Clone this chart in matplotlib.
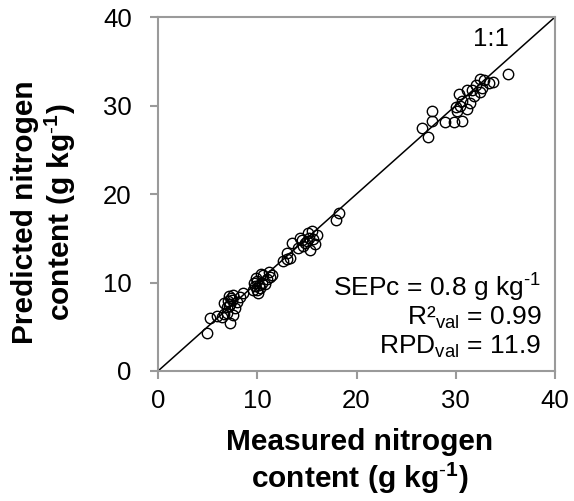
import matplotlib
matplotlib.use("Agg")
import matplotlib.pyplot as plt

plt.rcParams['font.family'] = ['Liberation Sans', 'DejaVu Sans']
plt.rcParams['mathtext.fontset'] = 'custom'
plt.rcParams['mathtext.rm'] = 'Liberation Sans'
plt.rcParams['mathtext.it'] = 'Liberation Sans:italic'
plt.rcParams['mathtext.bf'] = 'Liberation Sans:bold'

measured = [4.9, 5.2, 5.9, 6.4, 6.6, 7.25, 6.9, 7.6, 6.6, 7.1, 7.6, 7.2, 8.3, 8.6, 7.4, 7.8, 7.0, 7.3, 7.5, 8.0, 7.2,
            9.6, 10.1, 9.8, 10.0, 10.3, 10.5, 9.9, 10.6, 11.0, 10.4, 11.3, 10.8, 9.7, 10.2, 11.5, 11.2, 10.0,
            12.6, 13.0, 13.3, 13.0, 13.5, 14.1, 14.3, 14.6, 15.0, 15.1, 15.5, 16.0, 15.3, 15.8, 14.8, 15.2, 15.6, 14.5, 17.9, 18.2,
            26.6, 27.2, 27.6, 27.6, 28.9, 29.8, 30.6, 30.1, 31.1, 30.3, 30.6, 30.4, 31.1, 31.6, 31.8, 32.4, 32.6, 32.4, 33.8, 35.3,
            31.4, 30.0, 32.0, 33.3, 32.8]
predicted = [4.3, 6.0, 6.2, 6.1, 6.4, 5.4, 6.6, 6.3, 7.7, 7.9, 8.6, 7.4, 8.4, 8.8, 8.2, 7.1, 7.2, 7.6, 8.0, 7.8, 8.5,
             9.2, 8.8, 9.6, 10.2, 9.4, 10.0, 10.5, 10.8, 10.4, 11.0, 10.6, 9.8, 9.9, 9.7, 10.9, 11.2, 9.2,
             12.4, 12.6, 12.8, 13.3, 14.5, 13.9, 15.0, 14.1, 14.7, 15.6, 15.8, 15.4, 13.7, 14.3, 14.5, 15.0, 14.9, 14.8, 17.1, 17.9,
             27.5, 26.4, 29.4, 28.2, 28.1, 28.1, 28.2, 29.4, 29.6, 31.3, 30.5, 30.0, 31.7, 31.7, 31.1, 33.0, 32.0, 31.5, 32.7, 33.6,
             30.3, 29.8, 32.3, 32.6, 32.9]

ticks = [0, 10, 20, 30, 40]

fig = plt.figure(figsize=(5.74, 5.01), dpi=100)
ax = fig.add_axes([0.2753, 0.2595, 0.6916, 0.7065])

ax.plot([0, 40], [0, 40], color='black', lw=1.1, zorder=1)
ax.plot(measured, predicted, 'o', mfc='none', mec='black', ms=7.5, mew=1.0, zorder=2)

ax.set_xlim(0, 40)
ax.set_ylim(0, 40)
ax.set_xticks(ticks)
ax.set_yticks(ticks)
for s in ax.spines.values():
    s.set_color('#9a9a9a')
    s.set_linewidth(1.5)
ax.tick_params(direction='out', length=6, width=1.5, color='#9a9a9a', labelsize=18.5)
ax.tick_params(axis='x', pad=7)
ax.tick_params(axis='y', pad=13)

fig.text(0.627, 0.078, 'Measured nitrogen\ncontent (g kg$^{\\mathbf{\\text{-}1}}$)', fontsize=21.5, fontweight='bold',
         ha='center', va='center', multialignment='center', linespacing=1.15)
fig.text(0.078, 0.577, 'Predicted nitrogen\ncontent (g kg$^{\\mathbf{\\text{-}1}}$)', fontsize=21.5, fontweight='bold',
         ha='center', va='center', multialignment='center', rotation=90, linespacing=1.15)

ax.text(33.5, 37.5, '1:1', fontsize=18.5, ha='center', va='center')
ax.text(38.6, 9.4, 'SEPc = 0.8 g kg$^{\\text{-}1}$', fontsize=19, ha='right', va='center')
ax.text(38.6, 6.0, 'R²$_{\\mathregular{val}}$ = 0.99', fontsize=19, ha='right', va='center')
ax.text(38.6, 2.7, 'RPD$_{\\mathregular{val}}$ = 11.9', fontsize=19, ha='right', va='center')

fig.savefig('out.png', dpi=100)
